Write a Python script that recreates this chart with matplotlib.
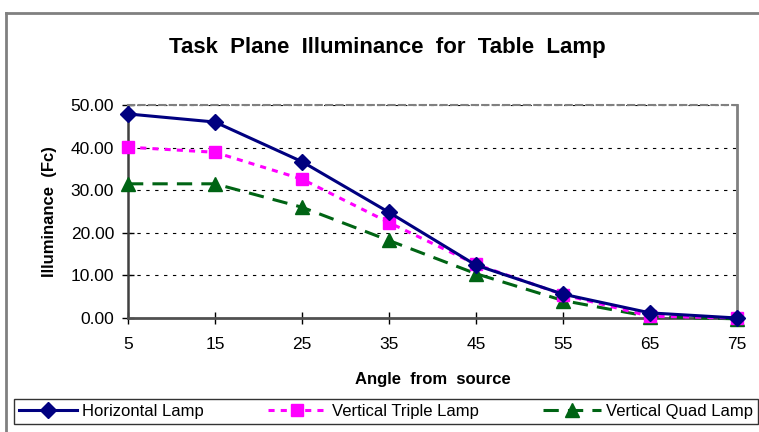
import matplotlib
matplotlib.use("Agg")
import matplotlib.pyplot as plt
from matplotlib.lines import Line2D
import numpy as np

plt.rcParams['font.family'] = ['Liberation Sans', 'DejaVu Sans']

angles = ["5", "15", "25", "35", "45", "55", "65", "75"]
horizontal = [47.9, 46.0, 36.7, 24.8, 12.4, 5.6, 1.2, 0.0]
triple = [40.1, 38.9, 32.6, 22.4, 12.6, 5.5, 0.4, 0.0]
quad = [31.5, 31.5, 26.0, 18.2, 10.4, 4.1, 0.3, -0.2]

fig = plt.figure(figsize=(7.59, 4.32), dpi=100)
ax = fig.add_axes([128/759, 114/432, 609/759, 213/432])

x = np.arange(len(angles))
ax.plot(x, horizontal, color='#000080', lw=2.2, marker='D', ms=8,
        label="Horizontal Lamp", clip_on=False, zorder=5)
ax.plot(x, triple, color='#FF00FF', lw=2.2, ls=(0, (2, 2)), marker='s', ms=8,
        label="Vertical Triple Lamp", clip_on=False, zorder=4)
ax.plot(x, quad, color='#006414', lw=2.2, ls=(0, (5, 3)), marker='^', ms=10,
        label="Vertical Quad Lamp", clip_on=False, zorder=3)

ax.set_xlim(0, len(angles) - 1)
ax.set_ylim(0, 50)
ax.set_xticks(x)
ax.set_xticklabels(angles)
ax.set_yticks(np.arange(0, 51, 10))
ax.set_yticklabels(["%.2f" % v for v in np.arange(0, 51, 10)])
ax.tick_params(direction='inout', length=8, width=1, labelsize=12.5, pad=6, colors='black')
ax.tick_params(axis='x', pad=10)

for yv in range(10, 51, 10):
    ax.axhline(yv, color='black', lw=0.8, ls=(0, (3, 5)), zorder=1)

ax.spines['left'].set_color('#404040')
ax.spines['left'].set_linewidth(1.8)
ax.spines['bottom'].set_color('#505050')
ax.spines['bottom'].set_linewidth(2)
ax.spines['right'].set_color('#808080')
ax.spines['right'].set_linewidth(2)
ax.spines['top'].set_color('#808080')
ax.spines['top'].set_linewidth(1.5)
ax.spines['top'].set_linestyle((0, (3, 2)))

ax.set_ylabel("Illuminance  (Fc)", fontsize=12, fontweight='bold', labelpad=10)
ax.set_xlabel("Angle  from  source", fontsize=12, fontweight='bold', labelpad=14)
fig.text(387/759, 1 - 47/432, "Task  Plane  Illuminance  for  Table  Lamp",
         ha='center', va='center', fontsize=16, fontweight='bold')

# outer chart frame
fig.add_artist(Line2D([6/759, 6/759], [0, 1 - 13/432], color='#808080', lw=2))
fig.add_artist(Line2D([6/759, 1], [1 - 13/432, 1 - 13/432], color='#808080', lw=2))

leg = fig.legend(loc='lower left', bbox_to_anchor=(14/759, 8/432, 744/759, 30/432),
                 ncol=3, mode='expand', fontsize=12, frameon=True, fancybox=False,
                 edgecolor='black', handlelength=3.5, handletextpad=0.3,
                 borderpad=0.3, borderaxespad=0)
leg.get_frame().set_linewidth(1)

fig.savefig("out.png", dpi=100)
